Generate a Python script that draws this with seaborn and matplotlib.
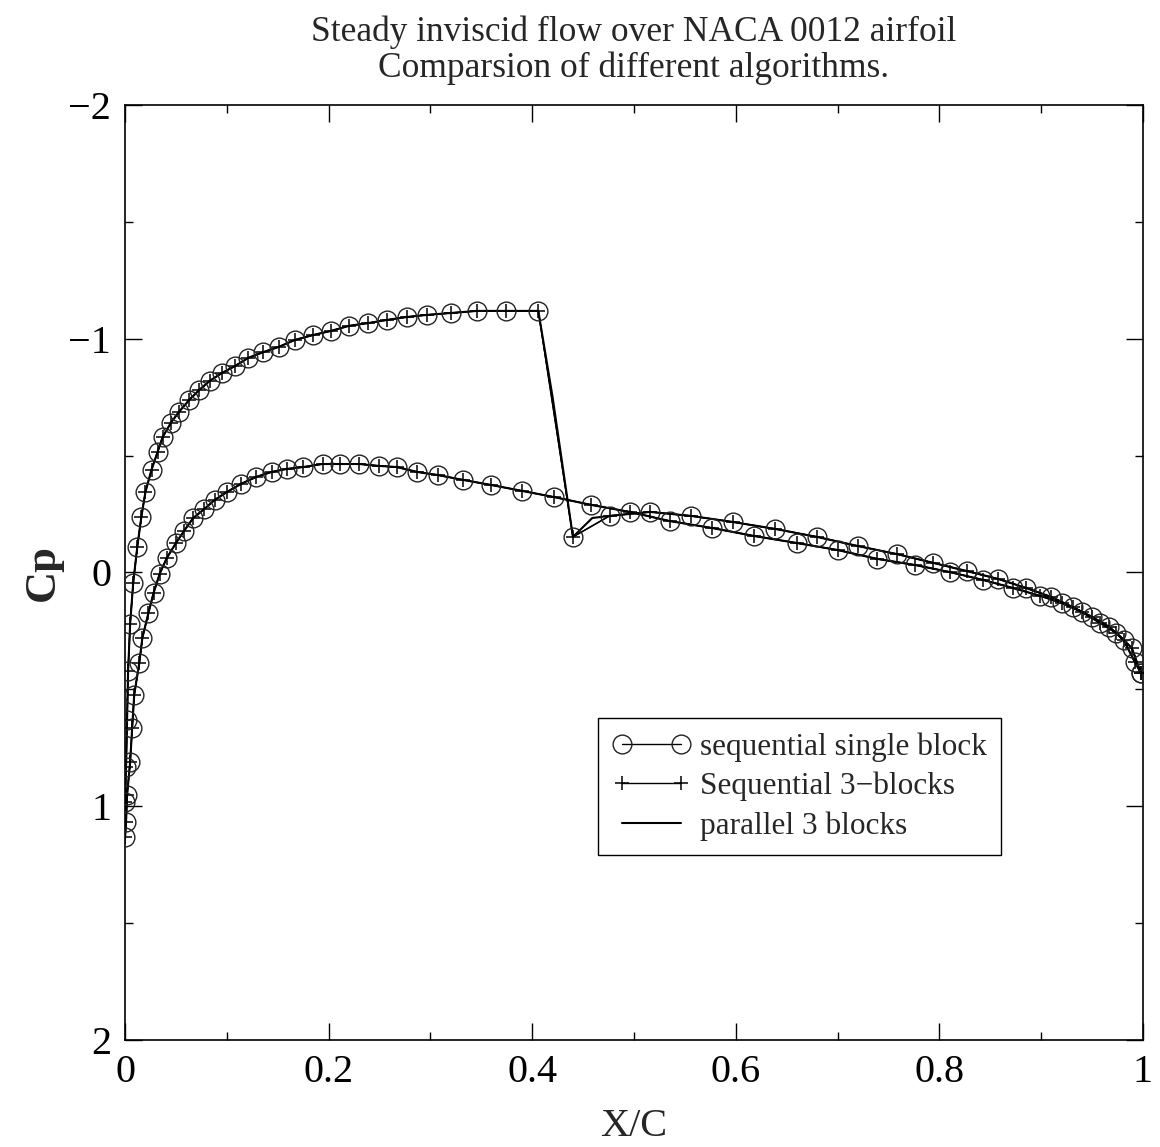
import numpy as np
import pandas as pd
import seaborn as sns
import matplotlib.pyplot as plt
from matplotlib.ticker import MultipleLocator

# Cp over NACA 0012
# upper surface, leading edge -> trailing edge
x_upper = [0.000, 0.000, 0.001, 0.002, 0.003, 0.005, 0.008, 0.012, 0.016, 0.020,
           0.026, 0.032, 0.037, 0.045, 0.053, 0.063, 0.073, 0.083, 0.095, 0.108,
           0.121, 0.136, 0.151, 0.167, 0.185, 0.202, 0.220, 0.239, 0.257, 0.277,
           0.297, 0.320, 0.346, 0.374, 0.406, 0.440, 0.476, 0.516, 0.556, 0.597,
           0.639, 0.680, 0.720, 0.758, 0.794, 0.827, 0.858, 0.885, 0.910, 0.931,
           0.950, 0.967, 0.981, 0.992, 0.998]
cp_upper = [1.131, 0.982, 0.832, 0.631, 0.421, 0.220, 0.045, -0.109, -0.237, -0.344,
            -0.439, -0.516, -0.580, -0.640, -0.687, -0.738, -0.781, -0.819, -0.853, -0.883,
            -0.918, -0.943, -0.965, -0.995, -1.016, -1.033, -1.055, -1.067, -1.080, -1.093,
            -1.102, -1.110, -1.119, -1.119, -1.119, -0.152, -0.242, -0.259, -0.242, -0.216,
            -0.186, -0.152, -0.113, -0.079, -0.041, -0.006, 0.028, 0.066, 0.105, 0.148,
            0.190, 0.233, 0.289, 0.383, 0.430]

# lower surface, leading edge -> trailing edge
x_lower = [0.001, 0.002, 0.005, 0.007, 0.009, 0.014, 0.017, 0.023, 0.028, 0.034,
           0.041, 0.050, 0.058, 0.067, 0.078, 0.088, 0.100, 0.114, 0.129, 0.144,
           0.159, 0.175, 0.194, 0.211, 0.230, 0.249, 0.267, 0.287, 0.307, 0.332,
           0.360, 0.390, 0.421, 0.458, 0.496, 0.535, 0.577, 0.618, 0.660, 0.700,
           0.739, 0.776, 0.810, 0.843, 0.872, 0.899, 0.920, 0.940, 0.958, 0.974,
           0.989, 0.998]
cp_lower = [1.067, 0.952, 0.811, 0.665, 0.524, 0.387, 0.280, 0.173, 0.088, 0.006,
            -0.062, -0.126, -0.178, -0.233, -0.272, -0.310, -0.344, -0.379, -0.409, -0.430,
            -0.443, -0.451, -0.464, -0.464, -0.464, -0.456, -0.451, -0.430, -0.417, -0.396,
            -0.374, -0.349, -0.323, -0.289, -0.259, -0.220, -0.190, -0.156, -0.126, -0.096,
            -0.058, -0.032, -0.002, 0.032, 0.066, 0.100, 0.130, 0.169, 0.216, 0.259,
            0.323, 0.430]

# extra points of the parallel run inside / just behind the shock
x_shock_par = [0.420, 0.459]
cp_shock_par = [-0.751, -0.233]

# one curve around the airfoil: lower TE -> LE -> upper TE
single = pd.DataFrame({'x': x_lower[::-1] + x_upper,
                       'cp': cp_lower[::-1] + cp_upper})
seq3 = single.copy()

up_par = pd.DataFrame({'x': x_upper + x_shock_par,
                       'cp': cp_upper + cp_shock_par}).sort_values('x', kind='stable')
parallel = pd.concat([pd.DataFrame({'x': x_lower[::-1], 'cp': cp_lower[::-1]}), up_par],
                     ignore_index=True)

sns.set_style("ticks")
plt.rcParams['font.family'] = ['Liberation Serif', 'DejaVu Serif']

fig = plt.figure(figsize=(11.6, 11.47), dpi=100)
ax = fig.add_axes([0.1078, 0.0933, 0.8775, 0.8152])

sns.lineplot(data=parallel, x='x', y='cp', sort=False, estimator=None, ax=ax,
             color='black', linewidth=1.5, label='parallel 3 blocks', zorder=2)
sns.lineplot(data=seq3, x='x', y='cp', sort=False, estimator=None, ax=ax,
             color='black', linewidth=1.0, marker='+', markersize=10,
             markeredgecolor='black', markeredgewidth=1.1,
             label='Sequential 3\u2212blocks', zorder=3)
sns.lineplot(data=single, x='x', y='cp', sort=False, estimator=None, ax=ax,
             color='black', linewidth=1.0, marker='o', markersize=13.5,
             markerfacecolor='none', markeredgecolor='#222222', markeredgewidth=1.0,
             label='sequential single block', zorder=4)

ax.set_xlim(0, 1)
ax.set_ylim(2, -2)
ax.xaxis.set_minor_locator(MultipleLocator(0.1))
ax.yaxis.set_minor_locator(MultipleLocator(0.5))
ax.set_xticks([0, 0.2, 0.4, 0.6, 0.8, 1.0])
ax.set_xticklabels(['0', '0.2', '0.4', '0.6', '0.8', '1'])
ax.set_yticks([-2, -1, 0, 1, 2])
ax.set_yticklabels(['\u22122', '\u22121', '0', '1', '2'])
ax.tick_params(which='both', direction='in', top=True, right=True, width=1.0,
               labelsize=29, colors='black', pad=10)
ax.tick_params(which='major', length=12)
ax.tick_params(which='minor', length=6)
for s in ax.spines.values():
    s.set_linewidth(1.2)
    s.set_color('black')

ax.set_xlabel('X/C', fontsize=29, labelpad=12)
ax.set_ylabel('Cp', fontsize=32, fontweight='bold', labelpad=4)
ax.set_title('Steady inviscid flow over NACA 0012 airfoil\nComparsion of different algorithms.',
             fontsize=25.5, pad=20, linespacing=1.1)

h, l = ax.get_legend_handles_labels()
order = [2, 1, 0]
leg = ax.legend([h[i] for i in order], [l[i] for i in order],
                loc='upper left', bbox_to_anchor=(0.465, 0.344), fontsize=22.5,
                numpoints=2, handlelength=2.5, handletextpad=0.3, borderpad=0.45,
                labelspacing=0.32, frameon=True, fancybox=False, edgecolor='black',
                framealpha=1.0, borderaxespad=0)
leg.get_frame().set_linewidth(1.0)

plt.savefig('out.png', dpi=100)
